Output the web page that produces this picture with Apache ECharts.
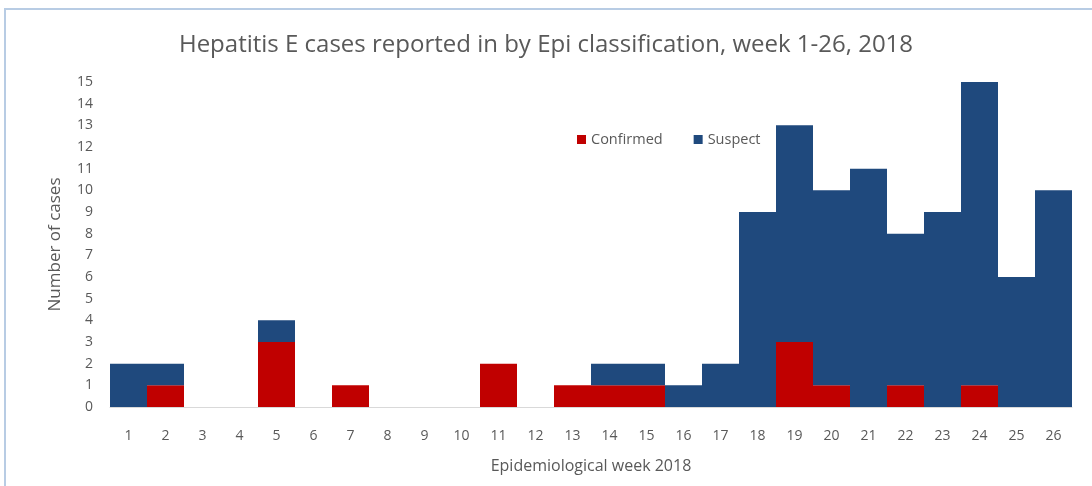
<!DOCTYPE html>
<html>
<head>
<meta charset="utf-8">
<script src="https://cdn.jsdelivr.net/npm/echarts@6/dist/echarts.min.js"></script>
<style>
  html, body { margin: 0; padding: 0; background: #fff; }
  #chart { width: 1092px; height: 486px; }
</style>
</head>
<body>
<div id="chart"></div>
<script>
// epi weeks 1-26
const weeks = ['1', '2', '3', '4', '5', '6', '7', '8', '9', '10', '11', '12', '13',
  '14', '15', '16', '17', '18', '19', '20', '21', '22', '23', '24', '25', '26'];
const confirmed = [0, 1, 0, 0, 3, 0, 1, 0, 0, 0, 2, 0, 1, 1, 1, 0, 0, 0, 3, 1, 0, 1, 0, 1, 0, 0];
const suspect = [2, 1, 0, 0, 1, 0, 0, 0, 0, 0, 0, 0, 0, 1, 1, 1, 2, 9, 10, 9, 11, 7, 9, 14, 6, 10];

const font = 'Open Sans';
const grey = '#595959';
const red = '#c00000';
const blue = '#1f497d';

const chart = echarts.init(document.getElementById('chart'));
chart.setOption({
  animation: false,
  textStyle: { fontFamily: font },
  title: {
    text: 'Hepatitis E cases reported in by Epi classification, week 1-26, 2018',
    left: 'center',
    top: 28,
    textStyle: { fontFamily: font, fontSize: 24, fontWeight: 'normal', color: grey },
  },
  legend: {
    data: ['Confirmed', 'Suspect'],
    left: 572,
    top: 127,
    itemWidth: 9,
    itemHeight: 9,
    itemGap: 31,
    icon: 'rect',
    textStyle: { fontFamily: font, fontSize: 14.5, color: grey },
  },
  graphic: [{
    type: 'rect',
    shape: { x: 5, y: 9, width: 1110, height: 500 },
    style: { fill: 'none', stroke: '#b8cce4', lineWidth: 2 },
    silent: true,
  }],
  // 26 x 37px so the bar edges land on whole pixels
  grid: { left: 110, right: 20, top: 82, bottom: 79 },
  xAxis: {
    type: 'category',
    data: weeks,
    name: 'Epidemiological week 2018',
    nameLocation: 'middle',
    nameGap: 51,
    nameTextStyle: { fontFamily: font, fontSize: 16, color: grey },
    axisLine: { lineStyle: { color: '#d9d9d9' } },
    axisTick: { show: false },
    axisLabel: { fontFamily: font, fontSize: 14, color: grey, margin: 22 },
  },
  yAxis: {
    type: 'value',
    min: 0,
    max: 15,
    interval: 1,
    name: 'Number of cases',
    nameLocation: 'middle',
    nameGap: 46,
    nameTextStyle: { fontFamily: font, fontSize: 17, color: grey },
    splitLine: { show: false },
    axisLine: { show: false },
    axisTick: { show: false },
    axisLabel: { fontFamily: font, fontSize: 14, color: grey, margin: 17 },
  },
  series: [
    {
      name: 'Confirmed',
      type: 'bar',
      stack: 'cases',
      data: confirmed,
      barCategoryGap: 0,
      itemStyle: { color: red },
    },
    {
      name: 'Suspect',
      type: 'bar',
      stack: 'cases',
      data: suspect,
      barCategoryGap: 0,
      itemStyle: { color: blue },
    },
  ],
});
</script>
</body>
</html>
